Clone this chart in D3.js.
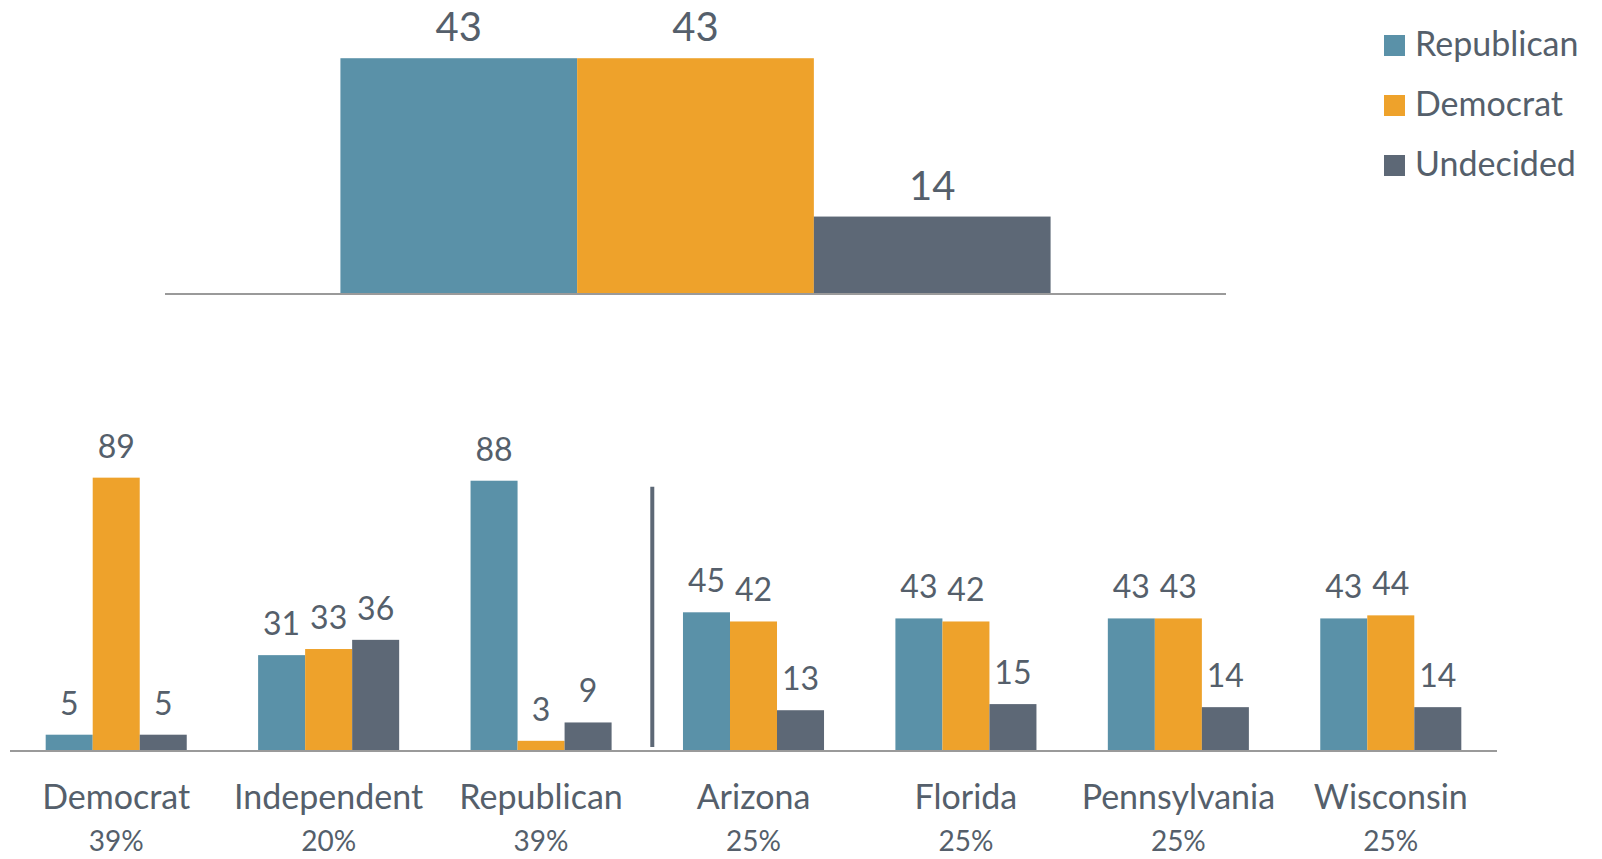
<!DOCTYPE html>
<html>
<head>
<meta charset="utf-8">
<script src="https://cdn.jsdelivr.net/npm/d3@7"></script>
<style>
  html, body { margin: 0; padding: 0; background: #fff; }
  svg text { font-family: Lato, "Open Sans", sans-serif; fill: #555f6b; }
</style>
</head>
<body>
<div id="chart"></div>
<script>
// series and colours
var series = ['Republican', 'Democrat', 'Undecided'];
var colors = ['#5a91a8', '#eea22b', '#5d6876'];

// overall result
var totalValues = [43, 43, 14];

// breakdown by party id and by state
var groups = ['Democrat', 'Independent', 'Republican', 'Arizona', 'Florida', 'Pennsylvania', 'Wisconsin'];
var groupShares = ['39%', '20%', '39%', '25%', '25%', '25%', '25%'];
var repValues = [5, 31, 88, 45, 43, 43, 43];
var demValues = [89, 33, 3, 42, 42, 43, 44];
var undValues = [5, 36, 9, 13, 15, 14, 14];

var width = 1602, height = 859;

var svg = d3.select('#chart').append('svg')
	.attr('width', width)
	.attr('height', height);

var color = d3.scaleOrdinal().domain(series).range(colors);

// ---- top chart ----
var topAxisY = 293;
var xTopOuter = d3.scaleBand().domain(['Total']).range([165, 1226]).paddingOuter(0.247);
var xTop = d3.scaleBand().domain(series).range([xTopOuter('Total'), xTopOuter('Total') + xTopOuter.bandwidth()]);
var yTop = d3.scaleLinear().domain([0, 50]).range([topAxisY, 20]);

var topData = series.map(function(s, i) { return {key: s, value: totalValues[i]}; });

svg.append('g').selectAll('rect').data(topData).enter()
	.append('rect')
	.attr('x', function(d) { return xTop(d.key); })
	.attr('y', function(d) { return yTop(d.value); })
	.attr('width', xTop.bandwidth())
	.attr('height', function(d) { return yTop(0) - yTop(d.value); })
	.attr('fill', function(d) { return color(d.key); });

svg.append('g').selectAll('text').data(topData).enter()
	.append('text')
	.attr('x', function(d) { return xTop(d.key) + xTop.bandwidth() / 2; })
	.attr('y', function(d) { return yTop(d.value) - 17; })
	.attr('text-anchor', 'middle')
	.style('font-size', '40px')
	.text(function(d) { return d.value; });

svg.append('line')
	.attr('x1', 165).attr('x2', 1226)
	.attr('y1', topAxisY + 1).attr('y2', topAxisY + 1)
	.attr('stroke', '#9a9a9a').attr('stroke-width', 2);

// legend
var legend = svg.append('g').selectAll('g').data(series).enter()
	.append('g')
	.attr('transform', function(d, i) { return 'translate(1384,' + (35 + i * 60) + ')'; });

legend.append('rect')
	.attr('width', 21).attr('height', 21)
	.attr('fill', function(d) { return color(d); });

legend.append('text')
	.attr('x', 31).attr('y', 21)
	.style('font-size', '34px')
	.text(function(d) { return d; });

// ---- bottom chart ----
var botAxisY = 750;
var x0 = d3.scaleBand().domain(groups).range([10, 1497]).paddingInner(0.336).paddingOuter(0.168);
var x1 = d3.scaleBand().domain(series).range([0, x0.bandwidth()]);
var yBot = d3.scaleLinear().domain([0, 100]).range([botAxisY, 444]);

var botData = groups.map(function(g, i) {
	return {
		group: g,
		share: groupShares[i],
		values: [
			{key: 'Republican', value: repValues[i]},
			{key: 'Democrat', value: demValues[i]},
			{key: 'Undecided', value: undValues[i]}
		]
	};
});

var grp = svg.append('g').selectAll('g').data(botData).enter()
	.append('g')
	.attr('transform', function(d) { return 'translate(' + x0(d.group) + ',0)'; });

grp.selectAll('rect').data(function(d) { return d.values; }).enter()
	.append('rect')
	.attr('x', function(d) { return x1(d.key); })
	.attr('y', function(d) { return yBot(d.value); })
	.attr('width', x1.bandwidth())
	.attr('height', function(d) { return yBot(0) - yBot(d.value); })
	.attr('fill', function(d) { return color(d.key); });

grp.selectAll('text.val').data(function(d) { return d.values; }).enter()
	.append('text')
	.attr('class', 'val')
	.attr('x', function(d) { return x1(d.key) + x1.bandwidth() / 2; })
	.attr('y', function(d) { return yBot(d.value) - 20; })
	.attr('text-anchor', 'middle')
	.style('font-size', '32px')
	.text(function(d) { return d.value; });

grp.append('text')
	.attr('x', x0.bandwidth() / 2)
	.attr('y', 809)
	.attr('text-anchor', 'middle')
	.style('font-size', '34px')
	.text(function(d) { return d.group; });

grp.append('text')
	.attr('x', x0.bandwidth() / 2)
	.attr('y', 851)
	.attr('text-anchor', 'middle')
	.style('font-size', '28px')
	.text(function(d) { return d.share; });

svg.append('line')
	.attr('x1', 10).attr('x2', 1497)
	.attr('y1', botAxisY + 1).attr('y2', botAxisY + 1)
	.attr('stroke', '#9a9a9a').attr('stroke-width', 2);

// divider between party id and states
var divX = (x0('Republican') + x0.bandwidth() + x0('Arizona')) / 2 + 5;
svg.append('line')
	.attr('x1', divX).attr('x2', divX)
	.attr('y1', yBot(86)).attr('y2', botAxisY - 3)
	.attr('stroke', '#5d6876').attr('stroke-width', 4);
</script>
</body>
</html>
